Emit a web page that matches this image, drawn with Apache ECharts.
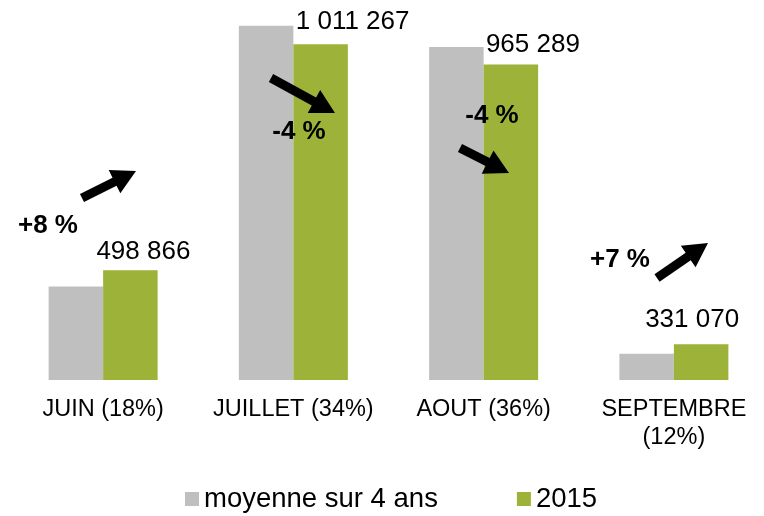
<!DOCTYPE html>
<html>
<head>
<meta charset="utf-8">
<script src="https://cdn.jsdelivr.net/npm/echarts@6/dist/echarts.min.js"></script>
<style>
	html, body { margin: 0; padding: 0; background: #fff; }
	#chart { width: 764px; height: 516px; }
</style>
</head>
<body>
<div id="chart"></div>
<script>
var categories = ['JUIN (18%)', 'JUILLET (34%)', 'AOUT (36%)', 'SEPTEMBRE\n(12%)'];
var moyenne = [461900, 1053400, 1005500, 309400];
var an2015 = [498866, 1011267, 965289, 331070];
var evolutions = ['+8 %', '-4 %', '-4 %', '+7 %'];
var seriesNames = ['moyenne sur 4 ans', '2015'];

var FONT = "'Liberation Sans', Arial, sans-serif";

// label nudges for the green bars (like the original layout)
var labelOffsets = [[13, 0], [32, -5], [22, -2], [-9, -6]];

// arrows: tail -> tip, and where the % text sits
var arrows = [
	[[82, 198], [136, 171]],
	[[271, 78], [335, 113]],
	[[460, 148], [509, 173]],
	[[657, 278], [708, 243]]
];
var pctPos = [[48, 226], [299, 132], [492, 116], [620, 260]];

function fmt(v){
	return String(v).replace(/\B(?=(\d{3})+(?!\d))/g, ' ');
}

function arrowShape(a, b){
	var dx = b[0] - a[0], dy = b[1] - a[1];
	var len = Math.sqrt(dx * dx + dy * dy);
	var ux = dx / len, uy = dy / len;
	var nx = -uy, ny = ux;
	var w = 4.5, L = 24, H = 13;
	var bx = b[0] - ux * L, by = b[1] - uy * L;
	return [
		[a[0] + nx * w, a[1] + ny * w],
		[bx + nx * w, by + ny * w],
		[bx + nx * H, by + ny * H],
		[b[0], b[1]],
		[bx - nx * H, by - ny * H],
		[bx - nx * w, by - ny * w],
		[a[0] - nx * w, a[1] - ny * w]
	];
}

var graphics = [];
arrows.forEach(function(ar){
	graphics.push({
		type: 'polygon',
		shape: { points: arrowShape(ar[0], ar[1]) },
		style: { fill: '#000' },
		z: 100
	});
});
evolutions.forEach(function(t, i){
	graphics.push({
		type: 'text',
		x: pctPos[i][0],
		y: pctPos[i][1],
		style: {
			text: t,
			fill: '#000',
			font: 'bold 26px ' + FONT,
			align: 'center',
			verticalAlign: 'middle'
		},
		z: 100
	});
});

var chart = echarts.init(document.getElementById('chart'));

chart.setOption({
	animation: false,
	backgroundColor: '#fff',
	textStyle: { fontFamily: FONT },
	grid: {
		left: 8,
		right: -5,
		top: 0,
		bottom: 136,
		containLabel: false,
		outerBoundsMode: 'none'
	},
	legend: {
		data: seriesNames,
		left: 185,
		top: 485,
		padding: 0,
		icon: 'rect',
		itemWidth: 14,
		itemHeight: 14,
		itemGap: 79,
		textStyle: { fontSize: 27.5, color: '#000', fontFamily: FONT }
	},
	xAxis: {
		type: 'category',
		data: categories,
		axisLine: { show: false },
		axisTick: { show: false },
		axisLabel: {
			interval: 0,
			margin: 16,
			fontSize: 23.5,
			lineHeight: 28,
			color: '#000',
			fontFamily: FONT
		}
	},
	yAxis: {
		type: 'value',
		min: 250000,
		max: 1111840,
		show: false,
		splitLine: { show: false }
	},
	graphic: graphics,
	series: [
		{
			name: seriesNames[0],
			type: 'bar',
			data: moyenne,
			barWidth: 54.5,
			barGap: '0%',
			itemStyle: { color: '#BFBFBF' }
		},
		{
			name: seriesNames[1],
			type: 'bar',
			barWidth: 54.5,
			barGap: '0%',
			itemStyle: { color: '#9DB239' },
			data: an2015.map(function(v, i){
				return {
					value: v,
					label: { offset: labelOffsets[i] }
				};
			}),
			label: {
				show: true,
				position: 'top',
				distance: 5,
				fontSize: 26,
				color: '#000',
				fontFamily: FONT,
				formatter: function(p){ return fmt(p.value); }
			}
		}
	]
});

window.onresize = function(){
	chart.resize();
}
</script>
</body>
</html>
